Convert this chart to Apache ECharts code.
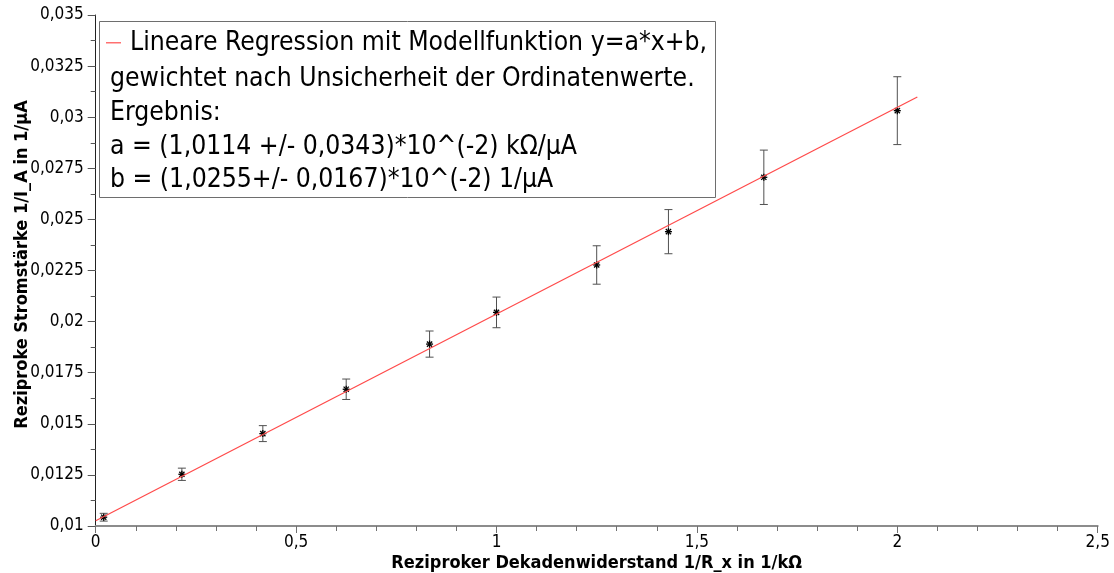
<!DOCTYPE html>
<html>
<head>
<meta charset="utf-8">
<script src="https://cdn.jsdelivr.net/npm/echarts@6/dist/echarts.min.js"></script>
<style>
html,body{margin:0;padding:0;background:#fff;}
#c{width:1114px;height:573px;}
</style>
</head>
<body>
<div id="c"></div>
<script>
// Data
const xVals = [0.02, 0.215, 0.417, 0.625, 0.833, 1.0, 1.25, 1.429, 1.667, 2.0];
const yVals = [0.01043, 0.01253, 0.01452, 0.01669, 0.01890, 0.02045, 0.02277, 0.02440, 0.02706, 0.03032];
const yErr  = [0.00019, 0.00030, 0.00039, 0.00050, 0.00064, 0.00075, 0.00094, 0.00108, 0.00133, 0.00166];
const fitX = [0, 2.05];
const fitY = [0.01026, 0.03099];
const legendLines = [
  'Lineare Regression mit Modellfunktion y=a*x+b,',
  'gewichtet nach Unsicherheit der Ordinatenwerte.',
  'Ergebnis:',
  'a = (1,0114 +/- 0,0343)*10^(-2) kΩ/µA',
  'b = (1,0255+/- 0,0167)*10^(-2) 1/µA'
];
const xTitle = 'Reziproker Dekadenwiderstand 1/R_x in 1/kΩ';
const yTitle = 'Reziproke Stromstärke 1/I_A in 1/µA';

const FONT = '"DejaVu Sans Condensed", "DejaVu Sans", sans-serif';
const fmt = v => String(Number(v.toFixed(6))).replace('.', ',');

const pts = xVals.map((x, i) => [x, yVals[i], yErr[i]]);
const fitData = fitX.map((x, i) => [x, fitY[i]]);

const chart = echarts.init(document.getElementById('c'), null, {renderer: 'canvas'});

const legendTexts = legendLines.map((t, i) => ({
  type: 'text',
  left: i === 0 ? 130 : 110,
  top: [43, 79, 113, 147, 180][i] - 13,
  style: {text: t, font: '26.3px ' + FONT, fill: '#000'},
  z: 101
}));

chart.setOption({
  animation: false,
  backgroundColor: '#fff',
  grid: {left: 95.7, right: 16.3, top: 15, bottom: 47, containLabel: false, outerBoundsMode: 'none'},
  xAxis: {
    type: 'value', min: 0, max: 2.5, interval: 0.5,
    name: xTitle, nameLocation: 'middle', nameGap: 28, nameMoveOverlap: false,
    nameTextStyle: {fontFamily: FONT, fontWeight: 'bold', fontSize: 18, color: '#000'},
    axisLine: {lineStyle: {color: '#8c8c8c', width: 2}},
    axisTick: {length: 7, lineStyle: {color: '#707070'}},
    minorTick: {show: true, splitNumber: 5, length: 5, lineStyle: {color: '#707070'}},
    splitLine: {show: false},
    axisLabel: {formatter: fmt, fontFamily: FONT, fontSize: 17, color: '#000', margin: 8}
  },
  yAxis: {
    type: 'value', min: 0.01, max: 0.035, interval: 0.0025,
    name: yTitle, nameLocation: 'middle', nameGap: 64, nameMoveOverlap: false,
    nameTextStyle: {fontFamily: FONT, fontWeight: 'bold', fontSize: 18, color: '#000', padding: [0, 0, 0, 12]},
    axisLine: {show: true, lineStyle: {color: '#222', width: 1}},
    axisTick: {show: true, length: 8, lineStyle: {color: '#555'}},
    minorTick: {show: true, splitNumber: 2, length: 5, lineStyle: {color: '#555'}},
    splitLine: {show: false},
    axisLabel: {formatter: fmt, fontFamily: FONT, fontSize: 17, color: '#000', margin: 12}
  },
  series: [
    {
      type: 'custom',
      data: pts,
      z: 2,
      renderItem: function (params, api) {
        const x = api.value(0), y = api.value(1), e = api.value(2);
        const top = api.coord([x, y + e]);
        const bot = api.coord([x, y - e]);
        const c = api.coord([x, y]);
        const cap = 4;
        const s = {stroke: '#505050', lineWidth: 1};
        const m = {stroke: '#000', lineWidth: 1.3};
        const r = 3.5;
        return {
          type: 'group',
          children: [
            {type: 'line', shape: {x1: top[0], y1: top[1], x2: bot[0], y2: bot[1]}, style: s},
            {type: 'line', shape: {x1: top[0] - cap, y1: top[1], x2: top[0] + cap, y2: top[1]}, style: s},
            {type: 'line', shape: {x1: bot[0] - cap, y1: bot[1], x2: bot[0] + cap, y2: bot[1]}, style: s},
            {type: 'line', shape: {x1: c[0] - r, y1: c[1], x2: c[0] + r, y2: c[1]}, style: m},
            {type: 'line', shape: {x1: c[0], y1: c[1] - r, x2: c[0], y2: c[1] + r}, style: m},
            {type: 'line', shape: {x1: c[0] - 2.6, y1: c[1] - 2.6, x2: c[0] + 2.6, y2: c[1] + 2.6}, style: m},
            {type: 'line', shape: {x1: c[0] - 2.6, y1: c[1] + 2.6, x2: c[0] + 2.6, y2: c[1] - 2.6}, style: m}
          ]
        };
      }
    },
    {
      type: 'line',
      name: legendLines[0],
      data: fitData,
      showSymbol: false,
      z: 3,
      lineStyle: {color: '#ff4a4a', width: 1.2}
    }
  ],
  graphic: [
    {
      type: 'rect', left: 99, top: 21, z: 100,
      shape: {width: 616, height: 176},
      style: {fill: '#fff', stroke: '#6e6e6e', lineWidth: 1}
    },
    {
      type: 'rect', left: 106, top: 42, z: 101,
      shape: {width: 15, height: 1.5},
      style: {fill: '#ff7070'}
    }
  ].concat(legendTexts)
});
</script>
</body>
</html>
